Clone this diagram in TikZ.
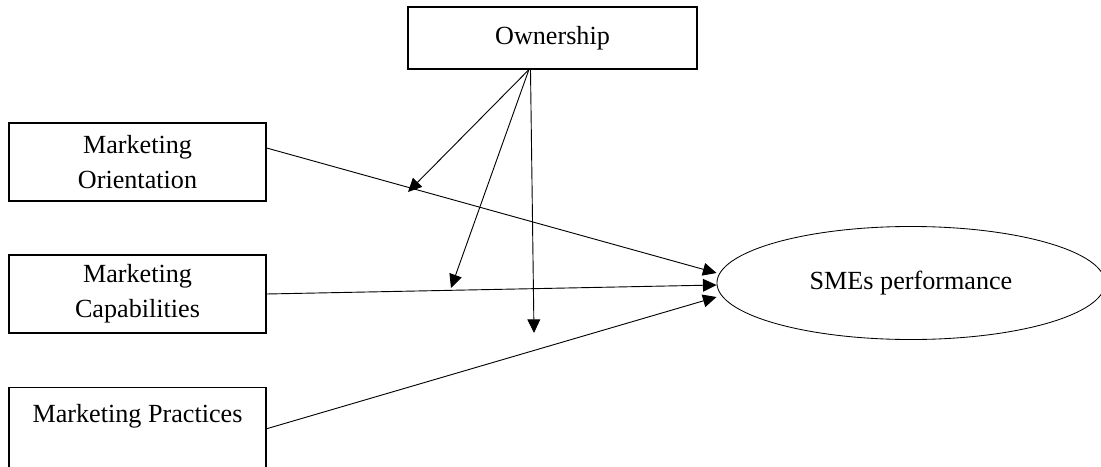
\documentclass[tikz,border=0pt]{standalone}
\usepackage{fontspec}
\setmainfont{Liberation Serif}
\usetikzlibrary{arrows.meta, shapes.geometric}

\begin{document}
\begin{tikzpicture}[x=0.025cm, y=-0.025cm, >={Triangle[length=0.34cm, width=0.32cm]},
  box/.style={draw, line width=0.9pt, minimum width=6.425cm, minimum height=1.95cm,
    align=center, font=\fontsize{18.6}{24.9}\selectfont},
  link/.style={->, line width=0.65pt}]
  \useasboundingbox (0,0) rectangle (1101,467);
  \clip (0,0) rectangle (1101,467);
  % moderator and the three predictors
  \node[box, minimum width=7.225cm, minimum height=1.55cm] (own) at (552.5,38) {Ownership};
  \node[box] (orient) at (137.5,162) {Marketing\\Orientation};
  \node[box] (capab) at (137.5,294) {Marketing\\Capabilities};
  \node[box, anchor=north, text height=0.875cm, text depth=2cm, inner ysep=0pt] (pract)
    at (137.5,387) {Marketing Practices};
  % outcome
  \node[draw, ellipse, line width=0.6pt, minimum width=9.7cm, minimum height=2.825cm,
    inner sep=0pt, font=\fontsize{18.6}{24.9}\selectfont] (sme) at (911,283) {SMEs performance};
  % direct paths
  \draw[link] ([yshift=0.35cm]orient.east) -- ([yshift=0.25cm]sme.west);
  \draw[link] (capab.east) -- ([yshift=-0.05cm]sme.west);
  \draw[link] ([yshift=0.41cm]pract.east) -- ([yshift=-0.35cm]sme.west);
  % moderating arrows
  \coordinate (m1) at (408,192);
  \coordinate (m2) at (451,288);
  \coordinate (m3) at (534,333);
  \draw[link] ([xshift=-0.59cm]own.south) -- (m1);
  \draw[link] ([xshift=-0.59cm]own.south) -- (m2);
  \draw[link] ([xshift=-0.55cm]own.south) -- (m3);
\end{tikzpicture}
\end{document}
